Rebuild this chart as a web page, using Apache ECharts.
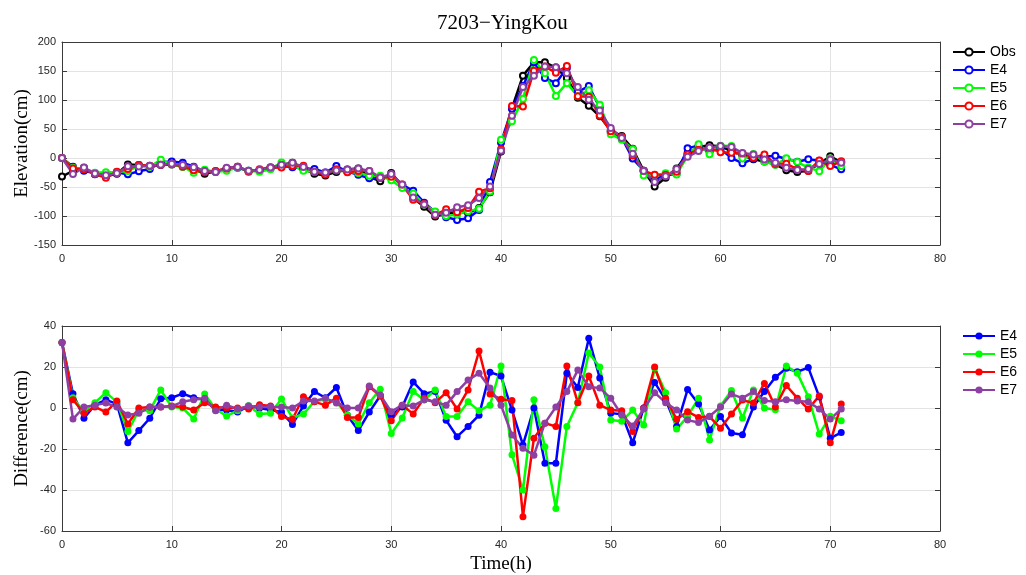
<!DOCTYPE html>
<html>
<head>
<meta charset="utf-8">
<script src="https://cdn.jsdelivr.net/npm/echarts@6/dist/echarts.min.js"></script>
<style>html,body{margin:0;padding:0;background:#fff}#c{width:1026px;height:575px}</style>
</head>
<body>
<div id="c"></div>
<script>
// ---- data ----
var hours = [];
for (var i = 0; i <= 71; i++) hours.push(i);

var obs = [-32,-22,-17,-28,-32,-27,-11,-12,-14,-12,-11,-15,-20,-27,-23,-18,-15,-23,-21,-17,-12,-8,-19,-27,-30,-24,-20,-18,-33,-40,
-26,-47,-69,-84,-101,-96,-93,-95,-86,-59,11,86,142,165,165,156,138,104,90,72,47,38,16,-22,-49,-34,-18,8,19,22,20,12,4,-2,-6,-11,-21,-24,-22,-10,3,-7.5];

var e4 = [0,-15,-22,-26.5,-28,-25,-28,-23,-19,-7.5,-6,-8,-15,-23,-24,-19,-17,-22,-21,-18,-14,-16,-18,-19,-25,-14,-23.5,-29,-35,-34,
-29.5,-46.5,-56.3,-77,-93,-102,-107,-104,-89.5,-41.5,26.6,85,124,165,138,129,155,114,124,86.6,44.5,35,-1,-22,-36.5,-30,-27,17,21,11.3,15.8,-0.2,-9,-1.5,2,4,-1.6,-6.3,-2.3,-4.6,-11.7,-19.5];

var e5 = [0,-17,-19,-25.4,-24.5,-24,-22.5,-13,-15.3,-3.2,-10.5,-15,-25.4,-20.2,-23.6,-21.9,-16.3,-21.9,-23.9,-19.6,-7.6,-12.9,-21.9,-23.9,-25.7,-21,-23.4,-25.8,-30.4,-30.8,
-38.4,-51.9,-61,-80.1,-92.2,-100.2,-97.2,-92,-87.3,-57.6,31.5,63.2,102,169,146.1,107,129,106.6,116.8,92,41.1,31.5,15,-30.3,-29.5,-26.5,-28.3,3.8,23.8,6.4,21,20.5,-0.9,6.8,-6,-11.8,-0.5,-7,-16.5,-22.7,-1,-13.7];

var e6 = [0,-18,-19.6,-27.5,-34,-23.6,-18.8,-12,-13.5,-11.5,-10,-14.5,-21,-24.4,-22.5,-18,-15,-23.5,-19.4,-16,-16.2,-13.5,-13.5,-24,-28.6,-19.2,-24.6,-22.6,-22.6,-34.1,
-32.2,-45.6,-71.9,-79.2,-98.4,-88.5,-93.5,-86.2,-58.2,-52.2,15.3,89.6,89,150.3,157.6,147,158.5,106.6,105.6,73.4,46,36.7,4.5,-22,-29,-29.2,-23.5,6.2,14.4,17.8,10.1,9.1,7.9,0.4,6,-10.5,-10,-19.2,-22.5,-4.1,-14,-5.6];

var e7 = [0,-27.4,-16.5,-26.6,-29.6,-26.5,-14.4,-14.6,-13.5,-11.5,-10.1,-12,-16,-22.2,-24.3,-16.6,-15.5,-22,-20.5,-16.5,-11.5,-8,-15.6,-23.6,-25.2,-21.6,-20,-18,-22.3,-33.7,
-27.8,-45.6,-68,-80,-98,-94.6,-85,-81.4,-69,-49.3,12.4,72.8,122.4,142,157.6,156.5,146,122.5,100.4,81.7,51.8,34.6,7.2,-22.5,-41.5,-31.4,-19,2.1,11.9,18,20.5,18.8,8.8,6,-2.4,-8,-17,-20.6,-19,-10.5,-2.4,-8];

var d4 = [32,7,-5,1.5,4,2,-17,-11,-5,4.5,5,7,5,4,-1,-1,-2,1,0,-1,-2,-8,1,8,5,10,-3.5,-11,-2,6,
-3.5,0.5,12.7,7,8,-6,-14,-9,-3.5,17.5,15.6,-1,-18,0,-27,-27,17,10,34,14.6,-2.5,-3,-17,0,12.5,4,-9,9,2,-10.7,-4.2,-12.2,-13,0.5,8,15,19.4,17.7,19.7,5.4,-14.7,-12];

var d5 = [32,5,-2,2.6,7.5,3,-11.5,-1,-1.3,8.8,0.5,0,-5.4,6.8,-0.6,-3.9,-1.3,1.1,-2.9,-2.6,4.4,-4.9,-2.9,3.1,4.3,3,-3.4,-7.8,2.6,9.2,
-12.4,-4.9,8,3.9,8.8,-4.2,-4.2,3,-1.3,1.4,20.5,-22.8,-40,4,-18.9,-49,-9,2.6,26.8,20,-5.9,-6.5,-1,-8.3,19.5,7.5,-10.3,-4.2,4.8,-15.6,1,8.5,-4.9,8.8,0,-0.8,20.5,17,5.5,-12.7,-4,-6.2];

var d6 = [32,4,-2.6,0.5,-2,3.4,-7.8,0,0.5,0.5,1,0.5,-1,2.6,0.5,0,0,-0.5,1.6,1,-4.2,-5.5,5.5,3,1.4,4.8,-4.6,-4.6,10.4,5.9,
-6.2,1.4,-2.9,4.8,2.6,7.5,-0.5,8.8,27.8,6.8,4.3,3.6,-53,-14.7,-7.4,-9,20.5,2.6,15.6,1.4,-1,-1.3,-11.5,0,20,4.8,-5.5,-1.8,-4.6,-4.2,-9.9,-2.9,3.9,2.4,12,0.5,11,4.8,-0.5,5.9,-17,1.9];

var d7 = [32,-5.4,0.5,1.4,2.4,0.5,-3.4,-2.6,0.5,0.5,0.9,3,4,4.8,-1.3,1.4,-0.5,1,0.5,0.5,0.5,0,3.4,3.4,4.8,2.4,0,0,10.7,6.3,
-1.8,1.4,1,4,3,1.4,8,13.6,17,9.7,1.4,-13.2,-19.6,-23,-7.4,0.5,8,18.5,10.4,9.7,4.8,-3.4,-8.8,-0.5,7.5,2.6,-1,-5.9,-7.1,-4,0.5,6.8,4.8,8,3.6,3,4,3.4,3,-0.5,-5.4,-0.5];

var topNames = ['Obs','E4','E5','E6','E7'];
var botNames = ['E4','E5','E6','E7'];
var colors = {Obs:'#000000', E4:'#0000ff', E5:'#00ff00', E6:'#ff0000', E7:'#8e3fa3'};

function pairs(arr){ return arr.map(function(v,i){ return [hours[i], v]; }); }

var chart = echarts.init(document.getElementById('c'), null, {renderer:'canvas'});

var axisCol = '#3a3a3a';
var gridCol = '#e3e3e3';
var tickFont = {fontFamily:'Liberation Sans, Arial, sans-serif', fontSize:11, color:'#262626'};
var nameFont = {fontFamily:'Liberation Serif, Times New Roman, serif', fontSize:19, color:'#000'};

function mainX(gi, showName){
  return {type:'value', gridIndex:gi, min:0, max:80, interval:10, position:'bottom',
    axisLine:{show:true, onZero:false, lineStyle:{color:axisCol, width:1}},
    axisTick:{show:true, inside:true, length:5, lineStyle:{color:axisCol}},
    axisLabel:Object.assign({margin:8}, tickFont),
    splitLine:{show:true, lineStyle:{color:gridCol, width:1}},
    name: showName ? 'Time(h)' : '', nameLocation:'middle', nameGap:24, nameTextStyle:nameFont};
}
function topX(gi){
  return {type:'value', gridIndex:gi, min:0, max:80, interval:10, position:'top',
    axisLine:{show:true, onZero:false, lineStyle:{color:axisCol, width:1}},
    axisTick:{show:true, inside:true, length:5, lineStyle:{color:axisCol}},
    axisLabel:{show:false}, splitLine:{show:false}};
}
function mainY(gi, mn, mx, iv, nm){
  return {type:'value', gridIndex:gi, min:mn, max:mx, interval:iv, position:'left',
    axisLine:{show:true, onZero:false, lineStyle:{color:axisCol, width:1}},
    axisTick:{show:true, inside:true, length:5, lineStyle:{color:axisCol}},
    axisLabel:Object.assign({margin:6}, tickFont),
    splitLine:{show:true, lineStyle:{color:gridCol, width:1}},
    name:nm, nameLocation:'middle', nameGap:30, nameMoveOverlap:false, nameTextStyle:nameFont};
}
function rightY(gi, mn, mx, iv){
  return {type:'value', gridIndex:gi, min:mn, max:mx, interval:iv, position:'right',
    axisLine:{show:true, onZero:false, lineStyle:{color:axisCol, width:1}},
    axisTick:{show:true, inside:true, length:5, lineStyle:{color:axisCol}},
    axisLabel:{show:false}, splitLine:{show:false}};
}

var topData = {Obs:obs, E4:e4, E5:e5, E6:e6, E7:e7};
var botData = {E4:d4, E5:d5, E6:d6, E7:d7};

var series = [];
topNames.forEach(function(n){
  series.push({name:n, type:'line', xAxisIndex:0, yAxisIndex:0, data:pairs(topData[n]),
    symbol:'emptyCircle', symbolSize:6, showAllSymbol:true,
    lineStyle:{color:colors[n], width:2.5},
    itemStyle:{color:colors[n], borderColor:colors[n], borderWidth:3.2},
    emphasis:{disabled:true}, animation:false});
});
botNames.forEach(function(n){
  series.push({name:n+'_diff', type:'line', xAxisIndex:2, yAxisIndex:2, data:pairs(botData[n]),
    symbol:'circle', symbolSize:7, showAllSymbol:true,
    lineStyle:{color:colors[n], width:2.5},
    itemStyle:{color:colors[n]},
    emphasis:{disabled:true}, animation:false});
});

var legendText = {fontFamily:'Liberation Sans, Arial, sans-serif', fontSize:14, color:'#000'};

chart.setOption({
  animation:false,
  backgroundColor:'#ffffff',
  title:{text:'7203\u2212YingKou', left:432, top:8,
    textStyle:{fontFamily:'Liberation Serif, Times New Roman, serif', fontSize:21, fontWeight:'normal', color:'#000'}},
  grid:[
    {left:62, right:86, top:42, height:203, containLabel:false, outerBoundsMode:'none'},
    {left:62, right:86, top:326, height:205, containLabel:false, outerBoundsMode:'none'}
  ],
  xAxis:[mainX(0,false), topX(0), mainX(1,true), topX(1)],
  yAxis:[mainY(0,-150,200,50,'Elevation(cm)'), rightY(0,-150,200,50),
         mainY(1,-60,40,20,'Difference(cm)'), rightY(1,-60,40,20)],
  legend:[
    {data:topNames, orient:'vertical', left:952, top:45, itemWidth:32, itemHeight:9, itemGap:4,
     textStyle:legendText, selectedMode:false, padding:0},
    {data:botNames.map(function(n){return n+'_diff';}), orient:'vertical', left:962, top:329,
     itemWidth:32, itemHeight:9, itemGap:4, textStyle:legendText, selectedMode:false, padding:0,
     formatter:function(n){ return n.replace('_diff',''); }}
  ],
  series:series
});
</script>
</body>
</html>
